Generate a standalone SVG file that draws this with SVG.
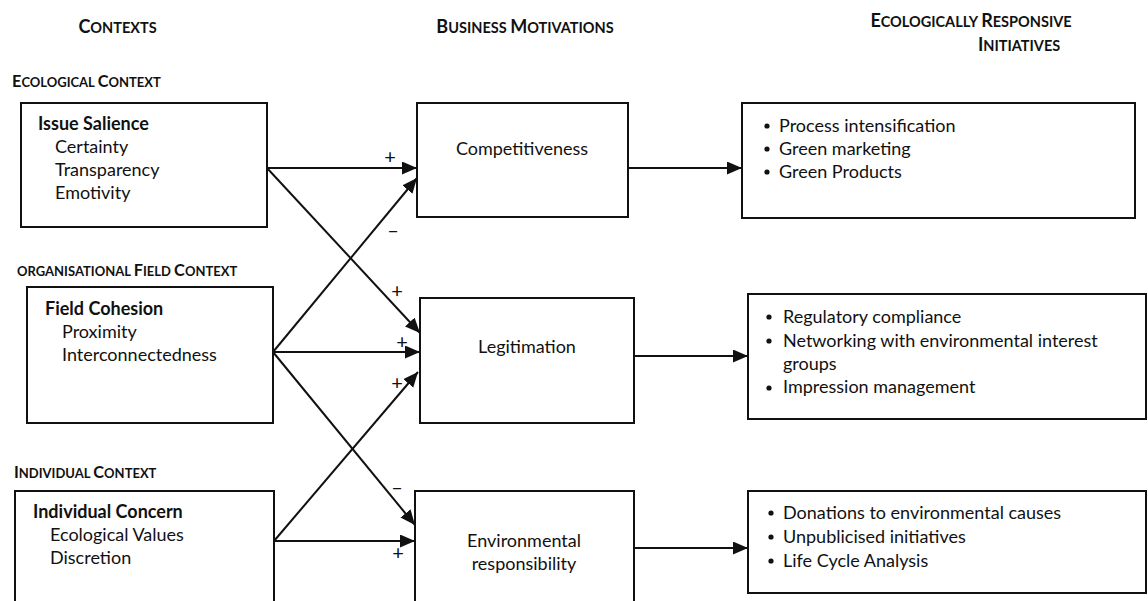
<svg xmlns="http://www.w3.org/2000/svg" width="1148" height="601" viewBox="0 0 1148 601">
  <style>
    text { font-family: Lato, "Liberation Sans", sans-serif; fill: #111; }
    .box { fill: #fff; stroke: #111; stroke-width: 2; }
    .body { font-size: 18px; }
    .bold { font-size: 18px; font-weight: bold; }
    .hd { font-weight: bold; }
    .hb { font-size: 18px; }
    .hs { font-size: 14.5px; }
    .sb { font-size: 16.3px; }
    .ss { font-size: 13px; }
    .sign { font-size: 20px; }
    .conn line { stroke: #111; stroke-width: 2; marker-end: url(#ah); }
    .dot { fill: #111; }
  </style>
  <defs>
    <marker id="ah" markerUnits="userSpaceOnUse" markerWidth="16" markerHeight="14" refX="15" refY="6.5" orient="auto">
      <path d="M0,0 L15,6.5 L0,13 z" fill="#111"/>
    </marker>
  </defs>

  <!-- column headings -->
  <g id="headings" class="hd">
    <text x="117.5" y="33" text-anchor="middle"><tspan class="hb">C</tspan><tspan class="hs">ONTEXTS</tspan></text>
    <text x="525" y="33" text-anchor="middle"><tspan class="hb">B</tspan><tspan class="hs">USINESS </tspan><tspan class="hb">M</tspan><tspan class="hs">OTIVATIONS</tspan></text>
    <text x="971" y="27" text-anchor="middle"><tspan class="hb">E</tspan><tspan class="hs">COLOGICALLY </tspan><tspan class="hb">R</tspan><tspan class="hs">ESPONSIVE</tspan></text>
    <text x="978" y="51"><tspan class="hb">I</tspan><tspan class="hs">NITIATIVES</tspan></text>
  </g>

  <!-- context section labels -->
  <g id="section-labels" class="hd">
    <text x="12" y="87"><tspan class="sb">E</tspan><tspan class="ss">COLOGICAL </tspan><tspan class="sb">C</tspan><tspan class="ss">ONTEXT</tspan></text>
    <text x="17" y="276"><tspan class="ss">ORGANISATIONAL </tspan><tspan class="sb">F</tspan><tspan class="ss">IELD </tspan><tspan class="sb">C</tspan><tspan class="ss">ONTEXT</tspan></text>
    <text x="14" y="478"><tspan class="sb">I</tspan><tspan class="ss">NDIVIDUAL </tspan><tspan class="sb">C</tspan><tspan class="ss">ONTEXT</tspan></text>
  </g>

  <!-- connectors -->
  <g id="connectors" class="conn">
    <line x1="267" y1="168" x2="417" y2="168"/>
    <line x1="267" y1="168" x2="420" y2="333"/>
    <line x1="273" y1="352" x2="417" y2="178"/>
    <line x1="273" y1="352" x2="420" y2="352"/>
    <line x1="273" y1="352" x2="415" y2="525"/>
    <line x1="274" y1="541" x2="418" y2="372"/>
    <line x1="274" y1="541" x2="415" y2="541"/>
    <line x1="628" y1="168" x2="742" y2="168"/>
    <line x1="634" y1="356" x2="748" y2="356"/>
    <line x1="634" y1="548" x2="748" y2="548"/>
  </g>

  <!-- signs on connectors -->
  <g id="signs" class="sign">
    <text x="390" y="164" text-anchor="middle">+</text>
    <text x="393" y="237" text-anchor="middle">–</text>
    <text x="397" y="298" text-anchor="middle">+</text>
    <text x="402" y="349" text-anchor="middle">+</text>
    <text x="397" y="390" text-anchor="middle">+</text>
    <text x="397" y="494" text-anchor="middle">–</text>
    <text x="398" y="560" text-anchor="middle">+</text>
  </g>

  <!-- context nodes -->
  <g id="issue-salience">
    <rect class="box" x="21" y="103" width="246" height="124"/>
    <text class="bold" x="38" y="130">Issue Salience</text>
    <text class="body" x="55" y="153">Certainty</text>
    <text class="body" x="55" y="176">Transparency</text>
    <text class="body" x="55" y="199">Emotivity</text>
  </g>
  <g id="field-cohesion">
    <rect class="box" x="27" y="287" width="246" height="136"/>
    <text class="bold" x="45" y="315">Field Cohesion</text>
    <text class="body" x="62" y="338">Proximity</text>
    <text class="body" x="62" y="361">Interconnectedness</text>
  </g>
  <g id="individual-concern">
    <rect class="box" x="15" y="491" width="259" height="130"/>
    <text class="bold" x="33" y="518">Individual Concern</text>
    <text class="body" x="50" y="541">Ecological Values</text>
    <text class="body" x="50" y="564">Discretion</text>
  </g>

  <!-- motivation nodes -->
  <g id="competitiveness">
    <rect class="box" x="417" y="103" width="211" height="114"/>
    <text class="body" x="522" y="155" text-anchor="middle">Competitiveness</text>
  </g>
  <g id="legitimation">
    <rect class="box" x="420" y="298" width="214" height="125"/>
    <text class="body" x="527" y="353" text-anchor="middle">Legitimation</text>
  </g>
  <g id="environmental-responsibility">
    <rect class="box" x="415" y="491" width="219" height="130"/>
    <text class="body" x="524" y="547" text-anchor="middle">Environmental</text>
    <text class="body" x="524" y="570" text-anchor="middle">responsibility</text>
  </g>

  <!-- initiative nodes -->
  <g id="initiatives-competitiveness">
    <rect class="box" x="742" y="103" width="393" height="115"/>
    <circle class="dot" cx="767" cy="126" r="2.6"/>
    <circle class="dot" cx="767" cy="149" r="2.6"/>
    <circle class="dot" cx="767" cy="172" r="2.6"/>
    <text class="body" x="779" y="132">Process intensification</text>
    <text class="body" x="779" y="155">Green marketing</text>
    <text class="body" x="779" y="178">Green Products</text>
  </g>
  <g id="initiatives-legitimation">
    <rect class="box" x="748" y="294" width="398" height="125"/>
    <circle class="dot" cx="769" cy="317" r="2.6"/>
    <circle class="dot" cx="769" cy="341" r="2.6"/>
    <circle class="dot" cx="769" cy="388" r="2.6"/>
    <text class="body" x="783" y="323">Regulatory compliance</text>
    <text class="body" x="783" y="347">Networking with environmental interest</text>
    <text class="body" x="783" y="370">groups</text>
    <text class="body" x="783" y="393">Impression management</text>
  </g>
  <g id="initiatives-responsibility">
    <rect class="box" x="748" y="491" width="398" height="102"/>
    <circle class="dot" cx="771" cy="513" r="2.6"/>
    <circle class="dot" cx="771" cy="537" r="2.6"/>
    <circle class="dot" cx="771" cy="561" r="2.6"/>
    <text class="body" x="783" y="519">Donations to environmental causes</text>
    <text class="body" x="783" y="543">Unpublicised initiatives</text>
    <text class="body" x="783" y="567">Life Cycle Analysis</text>
  </g>
</svg>
